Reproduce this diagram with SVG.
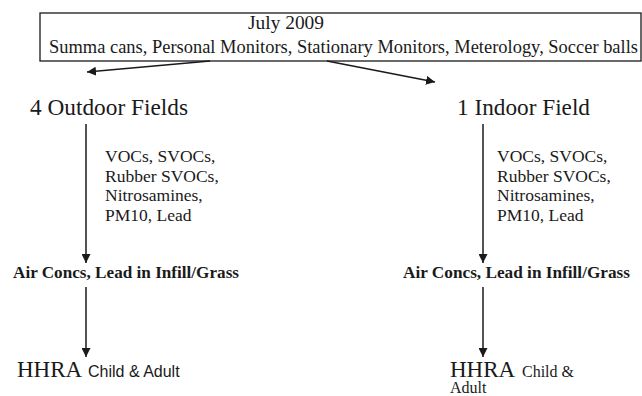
<svg xmlns="http://www.w3.org/2000/svg" width="642" height="396" viewBox="0 0 642 396">
<defs>
<style>
.serif{font-family:"Liberation Serif","Times New Roman",serif;fill:#1a1a1a}
.sans{font-family:"Liberation Sans",Arial,sans-serif;fill:#1a1a1a}
.bold{font-weight:bold}
.line{stroke:#1a1a1a;stroke-width:1.5;fill:none}
</style>
<marker id="ah" viewBox="0 0 10 10" refX="10" refY="5" markerWidth="9" markerHeight="9" markerUnits="userSpaceOnUse" orient="auto">
<path d="M0,0 L10,5 L0,10 z" fill="#1a1a1a"/>
</marker>
</defs>
<rect width="642" height="396" fill="#fff"/>
<g id="top">
<rect x="40" y="13" width="601" height="48" fill="#fff" stroke="#1a1a1a" stroke-width="1.3"/>
<text class="serif" font-family="Liberation Serif, serif" x="248" y="29" font-size="19.5" textLength="76" lengthAdjust="spacingAndGlyphs">July 2009</text>
<text class="serif" font-family="Liberation Serif, serif" x="49" y="53" font-size="18" textLength="589" lengthAdjust="spacingAndGlyphs">Summa cans, Personal Monitors, Stationary Monitors, Meterology, Soccer balls</text>
</g>
<g id="outdoor">
<text class="serif" font-family="Liberation Serif, serif" x="30" y="115" font-size="23" textLength="158" lengthAdjust="spacingAndGlyphs">4 Outdoor Fields</text>
</g>
<g id="indoor">
<text class="serif" font-family="Liberation Serif, serif" x="457" y="115" font-size="23" textLength="133" lengthAdjust="spacingAndGlyphs">1 Indoor Field</text>
</g>
<g id="label-outdoor">
<text class="serif" font-family="Liberation Serif, serif" font-size="17.5"><tspan x="105" y="162">VOCs, SVOCs,</tspan><tspan x="105" y="181.5">Rubber SVOCs,</tspan><tspan x="105" y="201">Nitrosamines,</tspan><tspan x="105" y="220.5">PM10, Lead</tspan></text>
</g>
<g id="label-indoor">
<text class="serif" font-family="Liberation Serif, serif" font-size="17.5"><tspan x="497" y="162">VOCs, SVOCs,</tspan><tspan x="497" y="181.5">Rubber SVOCs,</tspan><tspan x="497" y="201">Nitrosamines,</tspan><tspan x="497" y="220.5">PM10, Lead</tspan></text>
</g>
<g id="air-outdoor">
<text class="serif bold" font-family="Liberation Serif, serif" x="13" y="278" font-size="17" textLength="226" lengthAdjust="spacingAndGlyphs">Air Concs, Lead in Infill/Grass</text>
</g>
<g id="air-indoor">
<text class="serif bold" font-family="Liberation Serif, serif" x="403" y="278" font-size="17" textLength="227" lengthAdjust="spacingAndGlyphs">Air Concs, Lead in Infill/Grass</text>
</g>
<g id="hhra-outdoor">
<text x="17" y="377"><tspan class="serif" font-family="Liberation Serif, serif" font-size="23">HHRA</tspan><tspan class="sans" font-family="Liberation Sans, sans-serif" font-size="16" x="88">Child &amp; Adult</tspan></text>
</g>
<g id="hhra-indoor">
<text x="450" y="377"><tspan class="serif" font-family="Liberation Serif, serif" font-size="23">HHRA</tspan><tspan class="serif" font-family="Liberation Serif, serif" font-size="16" x="522">Child &amp;</tspan></text>
<text class="serif" font-family="Liberation Serif, serif" font-size="16" x="450" y="393">Adult</text>
</g>
<g id="connectors">
<line class="line" x1="210" y1="61" x2="87" y2="72" marker-end="url(#ah)"/>
<line class="line" x1="327" y1="61" x2="435" y2="82" marker-end="url(#ah)"/>
<line class="line" x1="86" y1="124" x2="86" y2="263" marker-end="url(#ah)"/>
<line class="line" x1="483" y1="124" x2="483" y2="263" marker-end="url(#ah)"/>
<line class="line" x1="86" y1="287" x2="86" y2="357" marker-end="url(#ah)"/>
<line class="line" x1="483" y1="287" x2="483" y2="357" marker-end="url(#ah)"/>
</g>
</svg>
